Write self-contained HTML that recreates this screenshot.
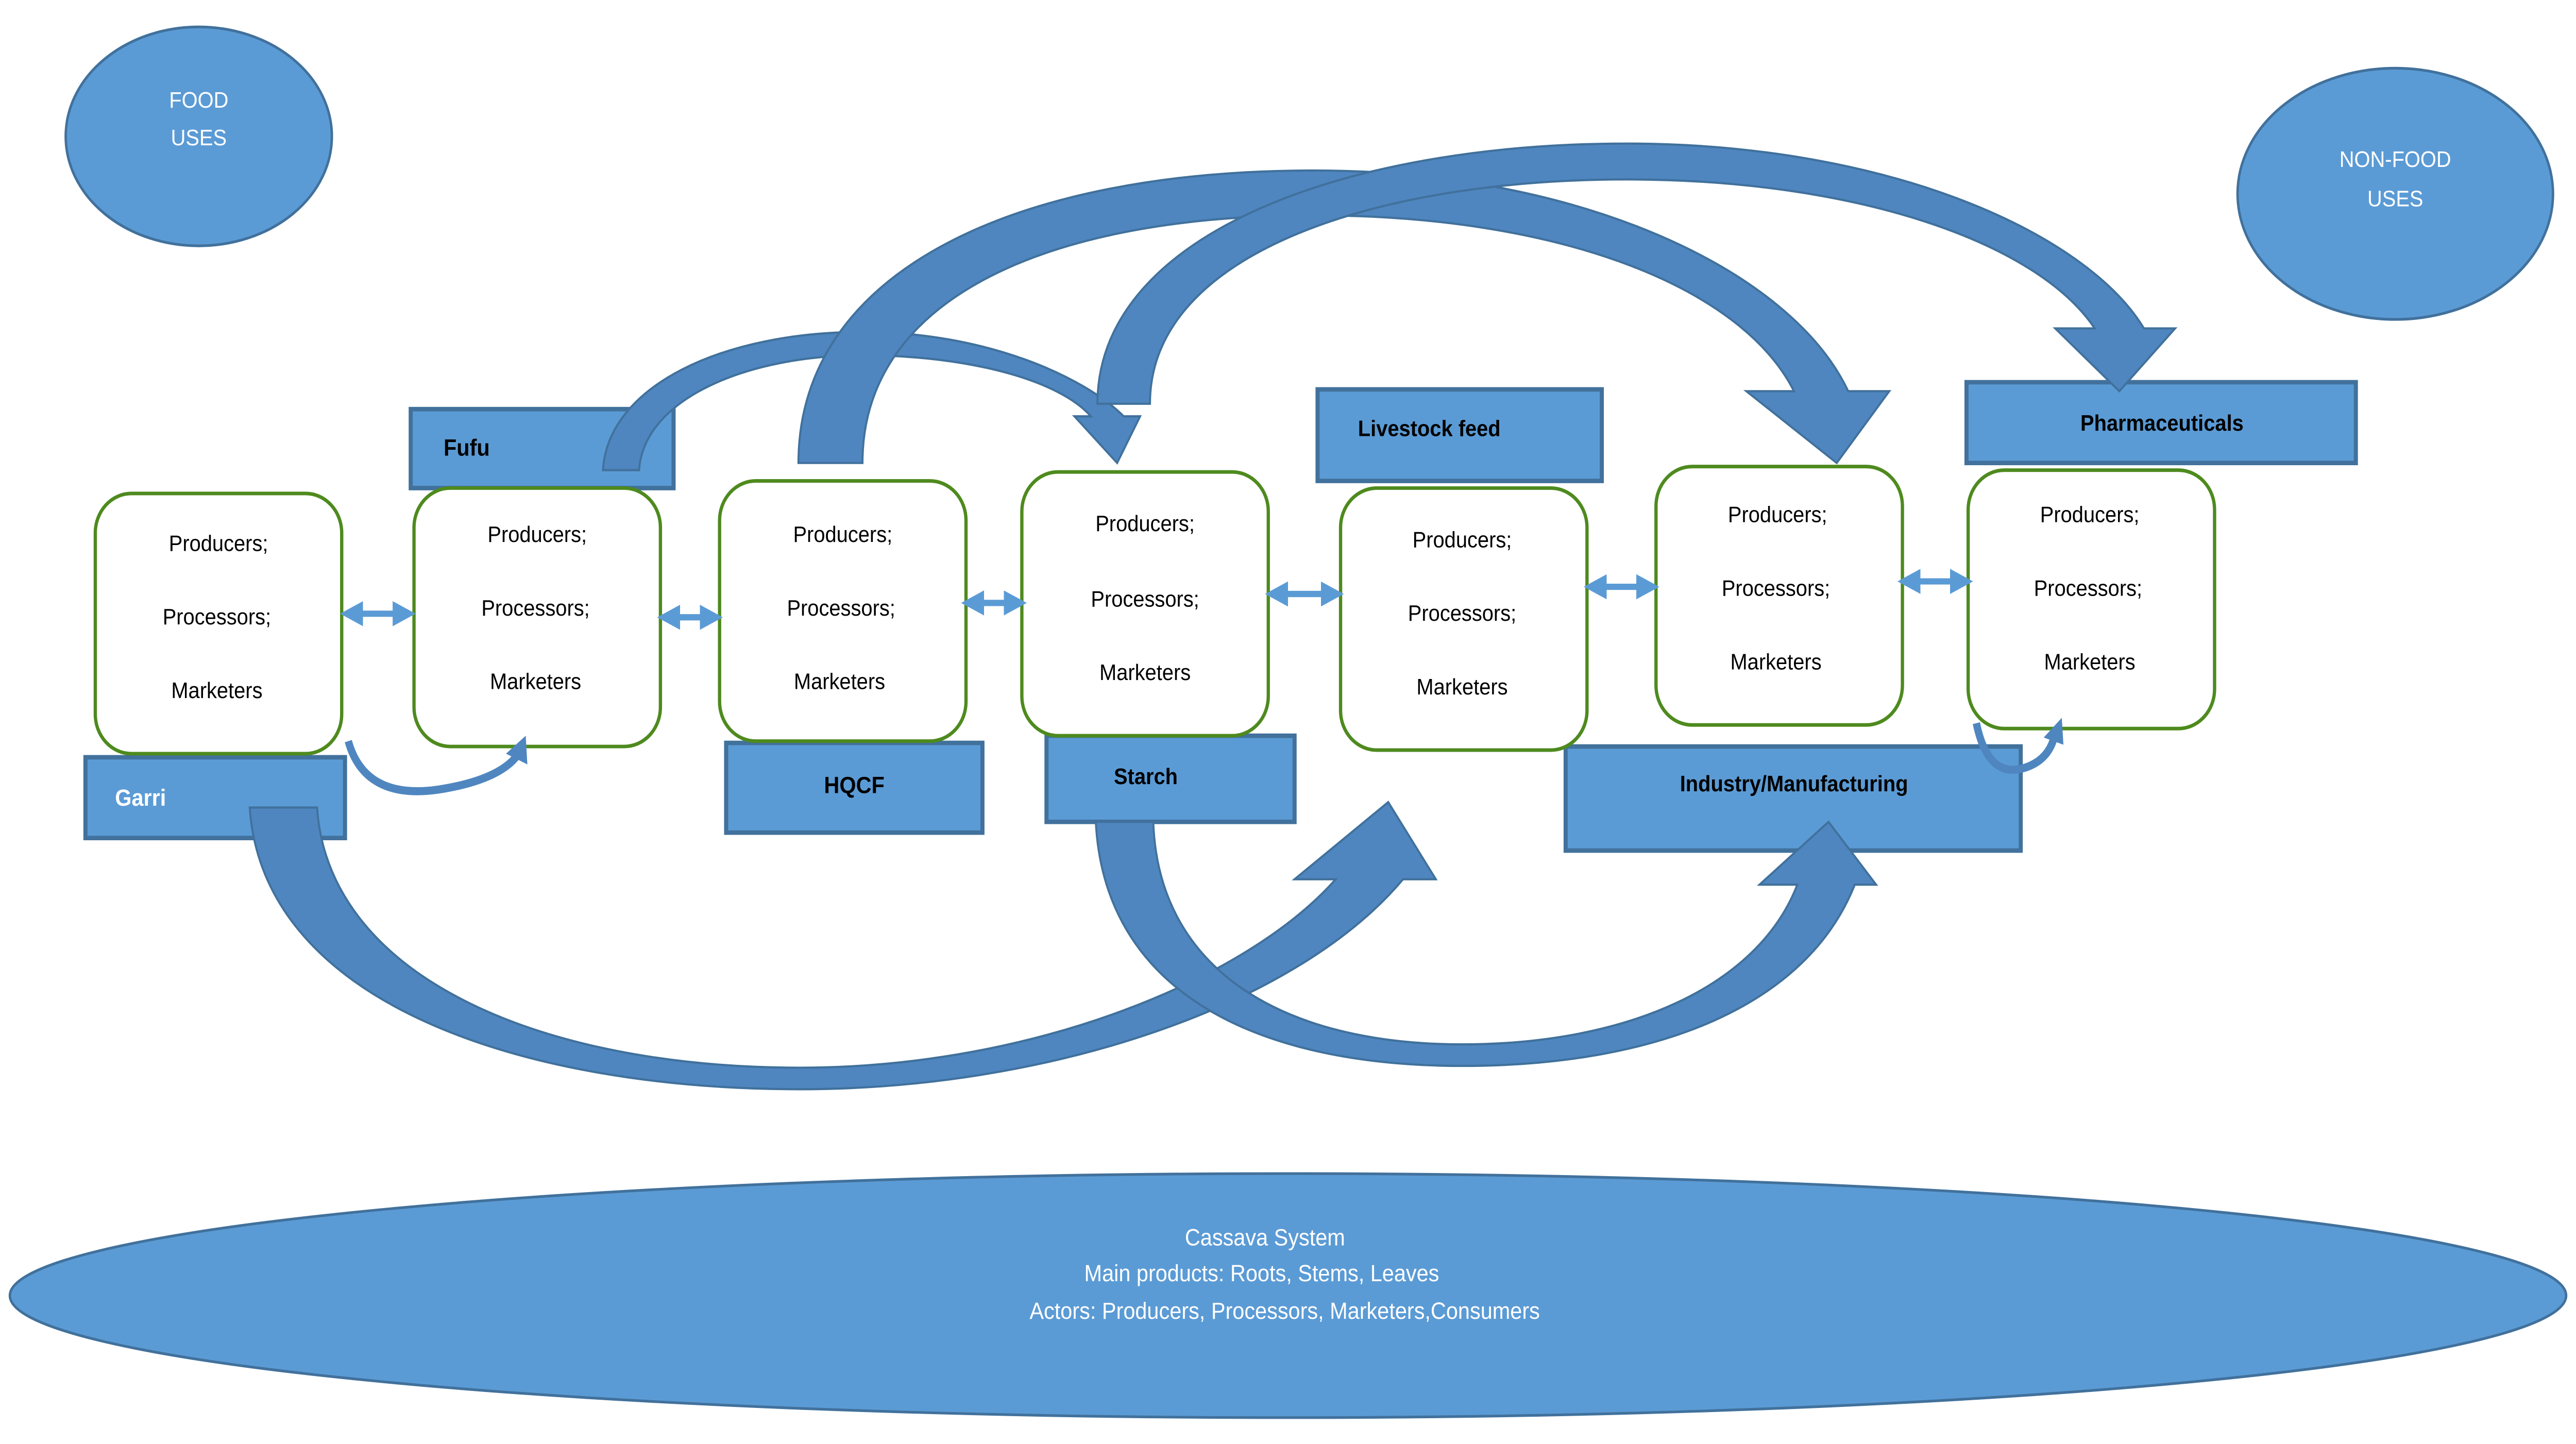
<!DOCTYPE html>
<html><head><meta charset="utf-8"><style>
html,body{margin:0;padding:0;background:#fff;width:100%;height:100%;overflow:hidden;}
svg{display:block;width:100vw;height:100vh;}
text{font-family:"Liberation Sans",sans-serif;}
</style></head><body>
<svg viewBox="0 0 1568 804.7" preserveAspectRatio="none" xmlns="http://www.w3.org/2000/svg">
<defs>
<marker id="ah" viewBox="0 0 10 10" refX="5" refY="5" markerWidth="4" markerHeight="4" orient="auto-start-reverse"><path d="M0,0 L10,5 L0,10 Z" fill="#5b9bd5"/></marker>
</defs>
<rect width="1568" height="805" fill="#fff"/>
<ellipse cx="121" cy="76" rx="81" ry="61" fill="#5b9bd5" stroke="#41719c" stroke-width="1.5"/>
<text x="121" y="60" font-size="12.5" fill="#fff" text-anchor="middle">FOOD</text>
<text x="121" y="81" font-size="12.5" fill="#fff" text-anchor="middle">USES</text>
<ellipse cx="1458" cy="108" rx="96" ry="70" fill="#5b9bd5" stroke="#41719c" stroke-width="1.5"/>
<text x="1458" y="93" font-size="12.5" fill="#fff" text-anchor="middle">NON-FOOD</text>
<text x="1458" y="115" font-size="12.5" fill="#fff" text-anchor="middle">USES</text>
<ellipse cx="784" cy="722" rx="778" ry="68" fill="#5b9bd5" stroke="#41719c" stroke-width="1.5"/>
<text x="770" y="694" font-size="13" fill="#fff" text-anchor="middle">Cassava System</text>
<text x="768" y="714" font-size="13" fill="#fff" text-anchor="middle">Main products: Roots, Stems, Leaves</text>
<text x="782" y="735" font-size="13" fill="#fff" text-anchor="middle">Actors: Producers, Processors, Marketers,Consumers</text>

<g fill="#5b9bd5" stroke="#41719c" stroke-width="2.5">
<rect x="250" y="228" width="160" height="44"/>
<rect x="52" y="422" width="158" height="45"/>
<rect x="442" y="414" width="156" height="50"/>
<rect x="637" y="410" width="151" height="48"/>
<rect x="802" y="217" width="173" height="51"/>
<rect x="953" y="416" width="277" height="58"/>
<rect x="1197" y="213" width="237" height="45"/>
</g>
<g font-size="13" font-weight="bold">
<text x="270" y="254" fill="#000">Fufu</text>
<text x="70" y="449" fill="#fff">Garri</text>
<text x="520" y="442" fill="#000" text-anchor="middle">HQCF</text>
<text x="678" y="437" fill="#000" font-size="12.5">Starch</text>
<text x="870" y="243" fill="#000" text-anchor="middle" font-size="12.5">Livestock feed</text>
<text x="1092" y="441" fill="#000" text-anchor="middle" font-size="12.5">Industry/Manufacturing</text>
<text x="1316" y="240" fill="#000" text-anchor="middle" font-size="12.5">Pharmaceuticals</text>
</g>

<g fill="#fff" stroke="#4e8a1e" stroke-width="2">
<rect x="58" y="275" width="150" height="145" rx="22"/>
<rect x="252" y="272" width="150" height="144" rx="22"/>
<rect x="438" y="268" width="150" height="145" rx="22"/>
<rect x="622" y="263" width="150" height="147" rx="22"/>
<rect x="816" y="272" width="150" height="146" rx="22"/>
<rect x="1008" y="260" width="150" height="144" rx="22"/>
<rect x="1198" y="262" width="150" height="144" rx="22"/>
</g>
<g font-size="12.5" fill="#000" text-anchor="middle">
<text x="133" y="307">Producers;</text><text x="132" y="348">Processors;</text><text x="132" y="389">Marketers</text>
<text x="327" y="302">Producers;</text><text x="326" y="343">Processors;</text><text x="326" y="384">Marketers</text>
<text x="513" y="302">Producers;</text><text x="512" y="343">Processors;</text><text x="511" y="384">Marketers</text>
<text x="697" y="296">Producers;</text><text x="697" y="338">Processors;</text><text x="697" y="379">Marketers</text>
<text x="890" y="305">Producers;</text><text x="890" y="346">Processors;</text><text x="890" y="387">Marketers</text>
<text x="1082" y="291">Producers;</text><text x="1081" y="332">Processors;</text><text x="1081" y="373">Marketers</text>
<text x="1272" y="291">Producers;</text><text x="1271" y="332">Processors;</text><text x="1272" y="373">Marketers</text>
</g>

<g stroke="#5b9bd5" stroke-width="3.5" marker-start="url(#ah)" marker-end="url(#ah)">
<line x1="214" y1="342" x2="246" y2="342"/>
<line x1="407" y1="344" x2="433" y2="344"/>
<line x1="592" y1="336" x2="618" y2="336"/>
<line x1="777" y1="331" x2="811" y2="331"/>
<line x1="971" y1="327" x2="1003" y2="327"/>
<line x1="1162" y1="324" x2="1194" y2="324"/>
</g>

<g fill="#4f86c0" stroke="#41719c" stroke-width="1.2">
<path d="M152,450 C160,560 320,607 487,607 C640,607 790,560 854,490 L874,490 L845,447 L788,490 L813,490 C760,545 630,595 487,595 C330,595 200,545 193,450 Z"/>
<path d="M667,458 C672,550 760,594 890,594 C1010,594 1100,560 1129,493 L1142,493 L1113,458 L1071,493 L1094,493 C1070,550 990,582 890,582 C780,582 705,540 702,458 Z"/>
<path d="M367,262 C370,215 440,185 525,185 C600,185 660,210 684,232 L694,232 L680,258 L654,232 L664,232 C645,212 590,198 525,198 C455,198 392,222 389,262 Z"/>
<path d="M486,258 C486,150 620,95 800,95 C960,95 1090,150 1125,218 L1150,218 L1118,258 L1063,218 L1092,218 C1060,160 950,120 800,120 C640,120 525,165 525,258 Z"/>
<path d="M668,225 C668,130 820,80 990,80 C1150,80 1270,130 1305,183 L1324,183 L1290,218 L1251,183 L1275,183 C1240,135 1130,100 990,100 C840,100 700,140 700,225 Z"/>
</g>

<g fill="none" stroke="#4f86c0" stroke-width="4.5">
<path d="M212,413 Q222,446 267,440 Q302,435 314,422"/>
<path d="M1203,403 Q1210,434 1232,428 Q1246,424 1250,412"/>
</g>
<g fill="#4f86c0">
<path d="M320,410 L321,426 L308,420 Z"/>
<path d="M1255,400 L1256,415 L1244,411 Z"/>
</g>
</svg>
</body></html>
